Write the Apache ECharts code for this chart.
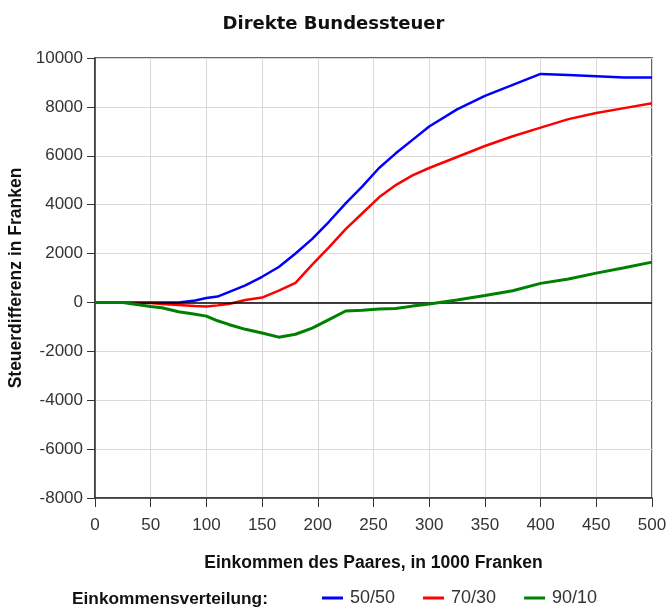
<!DOCTYPE html>
<html>
<head>
<meta charset="utf-8">
<script src="https://cdn.jsdelivr.net/npm/echarts@6/dist/echarts.min.js"></script>
<style>
html,body{margin:0;padding:0;background:#fff;}
#chart{width:667px;height:607px;}
</style>
</head>
<body>
<div id="chart"></div>
<script>
const titleText = 'Direkte Bundessteuer';
const xAxisName = 'Einkommen des Paares, in 1000 Franken';
const yAxisName = 'Steuerdifferenz in Franken';
const legendTitle = 'Einkommensverteilung:';
const seriesNames = ['50/50', '70/30', '90/10'];

const income = [0, 25, 50, 60, 75, 90, 100, 110, 120, 135, 150, 165, 180, 195, 210, 225, 240, 255, 270, 285, 300, 325, 350, 375, 400, 425, 450, 475, 500];
const s5050 = [0, 0, 0, 0, 0, 80, 180, 240, 420, 700, 1050, 1450, 2000, 2600, 3300, 4050, 4750, 5500, 6100, 6650, 7200, 7900, 8450, 8900, 9350, 9300, 9250, 9200, 9200];
const s7030 = [0, 0, -20, -60, -100, -150, -170, -120, -60, 100, 200, 480, 800, 1550, 2250, 3000, 3650, 4300, 4800, 5200, 5500, 5950, 6400, 6800, 7150, 7500, 7750, 7950, 8150];
const s9010 = [0, 0, -170, -220, -380, -480, -560, -750, -900, -1100, -1250, -1420, -1300, -1050, -700, -350, -320, -270, -250, -150, -60, 100, 280, 480, 780, 960, 1200, 1420, 1650];

const xTicks = {min: 0, max: 500, interval: 50};
const yTicks = {min: -8000, max: 10000, interval: 2000};

const colors = ['#0000ff', '#ff0000', '#008000'];
const valueSets = [s5050, s7030, s9010];

function pairs(vals) { return income.map((x, i) => [x, vals[i]]); }

const chart = echarts.init(document.getElementById('chart'), null, {renderer: 'canvas'});
const baseFont = 'Liberation Sans, Arial, sans-serif';

const series = seriesNames.map((name, i) => ({
  name: name,
  type: 'line',
  data: pairs(valueSets[i]),
  showSymbol: false,
  symbol: 'none',
  smooth: false,
  lineStyle: {color: colors[i], width: i === 2 ? 3 : 2.5},
  itemStyle: {color: colors[i]},
  z: 3 + i,
  animation: false
}));
series[0].markLine = {
  silent: true,
  symbol: ['none', 'none'],
  label: {show: false},
  lineStyle: {color: '#000', width: 1.5, type: 'solid'},
  data: [{yAxis: 0}],
  animation: false
};

chart.setOption({
  animation: false,
  backgroundColor: '#fff',
  title: {
    text: titleText,
    left: 'center',
    top: 10,
    textStyle: {fontFamily: 'DejaVu Sans, Verdana, sans-serif', fontWeight: 'bold', fontSize: 18, color: '#111'}
  },
  grid: {
    left: 95, right: 15, top: 58, bottom: 109,
    show: true, borderColor: '#333', borderWidth: 1.5, backgroundColor: '#fff',
    containLabel: false, outerBoundsMode: 'none'
  },
  legend: {
    data: seriesNames,
    left: 322,
    top: 589,
    padding: 0,
    icon: 'rect',
    itemWidth: 21,
    itemHeight: 3,
    itemGap: 28,
    textStyle: {fontFamily: baseFont, fontSize: 18, color: '#333', padding: [0, 0, 0, 2]}
  },
  graphic: [{
    type: 'text',
    left: 72,
    top: 591,
    style: {text: legendTitle, fontFamily: baseFont, fontWeight: 'bold', fontSize: 17.3, fill: '#111'}
  }],
  xAxis: {
    type: 'value',
    min: xTicks.min, max: xTicks.max, interval: xTicks.interval,
    name: xAxisName,
    nameLocation: 'middle',
    nameGap: 56,
    nameTextStyle: {fontFamily: baseFont, fontWeight: 'bold', fontSize: 17.5, color: '#111'},
    axisLine: {show: true, onZero: false, lineStyle: {color: '#333', width: 1.5}},
    axisTick: {show: true, length: 9, lineStyle: {color: '#333'}},
    axisLabel: {fontFamily: baseFont, fontSize: 17, color: '#333', margin: 19},
    splitLine: {show: true, lineStyle: {color: '#d9d9d9', width: 1}}
  },
  yAxis: {
    type: 'value',
    min: yTicks.min, max: yTicks.max, interval: yTicks.interval,
    name: yAxisName,
    nameLocation: 'middle',
    nameRotate: 90,
    nameGap: 55,
    nameTextStyle: {fontFamily: baseFont, fontWeight: 'bold', fontSize: 17.5, color: '#111'},
    axisLine: {show: true, onZero: false, lineStyle: {color: '#333', width: 1.5}},
    axisTick: {show: true, length: 8, lineStyle: {color: '#333'}},
    axisLabel: {fontFamily: baseFont, fontSize: 17, color: '#333', margin: 12, formatter: v => String(v)},
    splitLine: {show: true, lineStyle: {color: '#d9d9d9', width: 1}}
  },
  series: series
});
</script>
</body>
</html>
